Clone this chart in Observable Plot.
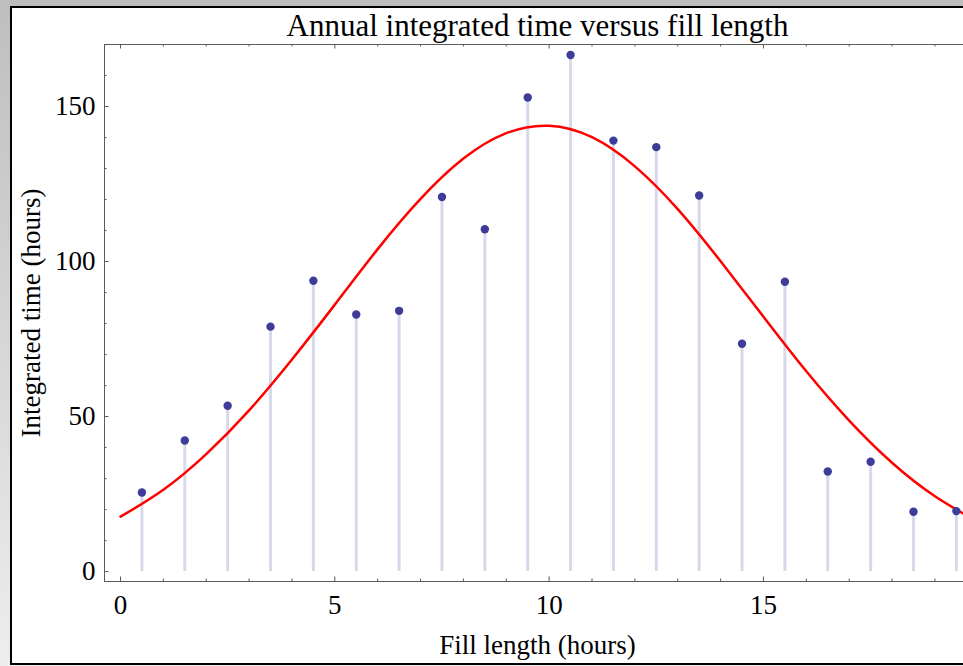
<!DOCTYPE html>
<html>
<head>
<meta charset="utf-8">
<script src="https://cdn.jsdelivr.net/npm/d3@7"></script>
<script src="https://cdn.jsdelivr.net/npm/@observablehq/plot@0.6"></script>
<style>
  html, body { margin: 0; padding: 0; width: 963px; height: 666px; overflow: hidden; }
  body { position: relative; background: linear-gradient(to bottom, #bebebe, #ededed); }
  #panel { position: absolute; left: 10px; top: 6px; width: 1000px; height: 655px; background: #fff;
           border-left: 2px solid #000; border-top: 2px solid #000; border-bottom: 2px solid #000; }
  #chart { position: absolute; left: 0; top: 0; width: 1000px; height: 666px; }
  #chart svg { max-width: none !important; }
</style>
</head>
<body>
<div id="panel"></div>
<div id="chart"></div>
<script>
const title = "Annual integrated time versus fill length";
const xLabel = "Fill length (hours)";
const yLabel = "Integrated time (hours)";

const fillLength = [0.5, 1.5, 2.5, 3.5, 4.5, 5.5, 6.5, 7.5, 8.5, 9.5, 10.5, 11.5, 12.5, 13.5, 14.5, 15.5, 16.5, 17.5, 18.5, 19.5];
const integratedTime = [25.5, 42.3, 53.5, 79, 93.8, 82.9, 84.1, 120.8, 110.4, 152.9, 166.6, 139, 136.9, 121.3, 73.5, 93.5, 32.3, 35.4, 19.3, 19.5];

const fitX = [0, 1, 2, 3, 4, 5, 6, 7, 8, 9, 10, 11, 12, 13, 14, 15, 16, 17, 18, 19, 20];
const fitY = [17.7, 26.4, 37.9, 52.0, 68.4, 86.1, 104.0, 120.2, 133.2, 141.4, 143.8, 140.1, 130.7, 116.9, 100.1, 82.2, 64.6, 48.7, 35.1, 24.3, 16.1];

const xMajorTicks = [0, 5, 10, 15];
const xMinorTicks = [1, 2, 3, 4, 6, 7, 8, 9, 11, 12, 13, 14, 16, 17, 18, 19];
const yMajorTicks = [0, 50, 100, 150];
const yMinorTicks = [10, 20, 30, 40, 60, 70, 80, 90, 110, 120, 130, 140, 160, 170];

const points = fillLength.map((x, i) => ({x, y: integratedTime[i]}));
const fit = fitX.map((x, i) => ({x, y: fitY[i]}));

const width = 1000, height = 666;
const mL = 104, mR = 30, mT = 44, mB = 85;
const H = height - mT - mB, W = width - mL - mR;
const axisColor = "#5a5a5a";
const majorLen = 4.5, minorLen = 2.5;

const chart = Plot.plot({
  width, height,
  marginLeft: mL, marginRight: mR, marginTop: mT, marginBottom: mB,
  style: {fontFamily: "'Liberation Serif', 'Times New Roman', serif", color: "#000", background: "transparent", overflow: "visible", maxWidth: "none"},
  x: {domain: [-0.373, 19.83]},
  y: {domain: [-3.2, 170]},
  marks: [
    Plot.ruleX(points, {x: "x", y1: 0, y2: "y", stroke: "#d8d8eb", strokeWidth: 3}),
    Plot.line(fit, {x: "x", y: "y", stroke: "#ff0000", strokeWidth: 2.5, curve: "natural"}),
    Plot.dot(points, {x: "x", y: "y", r: 4.2, fill: "#3d3d99", stroke: "none"}),
    Plot.frame({stroke: axisColor}),
    Plot.ruleX(xMajorTicks, {x: d => d, insetTop: H - majorLen, stroke: axisColor}),
    Plot.ruleX(xMajorTicks, {x: d => d, insetBottom: H - majorLen, stroke: axisColor}),
    Plot.ruleX(xMinorTicks, {x: d => d, insetTop: H - minorLen, stroke: axisColor}),
    Plot.ruleX(xMinorTicks, {x: d => d, insetBottom: H - minorLen, stroke: axisColor}),
    Plot.ruleY(yMajorTicks, {y: d => d, insetRight: W - majorLen, stroke: axisColor}),
    Plot.ruleY(yMinorTicks, {y: d => d, insetRight: W - minorLen, stroke: axisColor}),
    Plot.axisX({ticks: xMajorTicks, tickSize: 0, tickPadding: 13, fontSize: 27, label: xLabel,
                labelAnchor: "center", labelOffset: 72, labelArrow: "none"}),
    Plot.axisY({ticks: yMajorTicks, tickSize: 0, tickPadding: 9, fontSize: 27, label: yLabel,
                labelAnchor: "center", labelOffset: 84, labelArrow: "none"}),
    Plot.text([title], {text: d => d, frameAnchor: "top", dy: -9, lineAnchor: "bottom", fontSize: 31, fill: "#000"})
  ]
});
document.getElementById("chart").appendChild(chart);
</script>
</body>
</html>
